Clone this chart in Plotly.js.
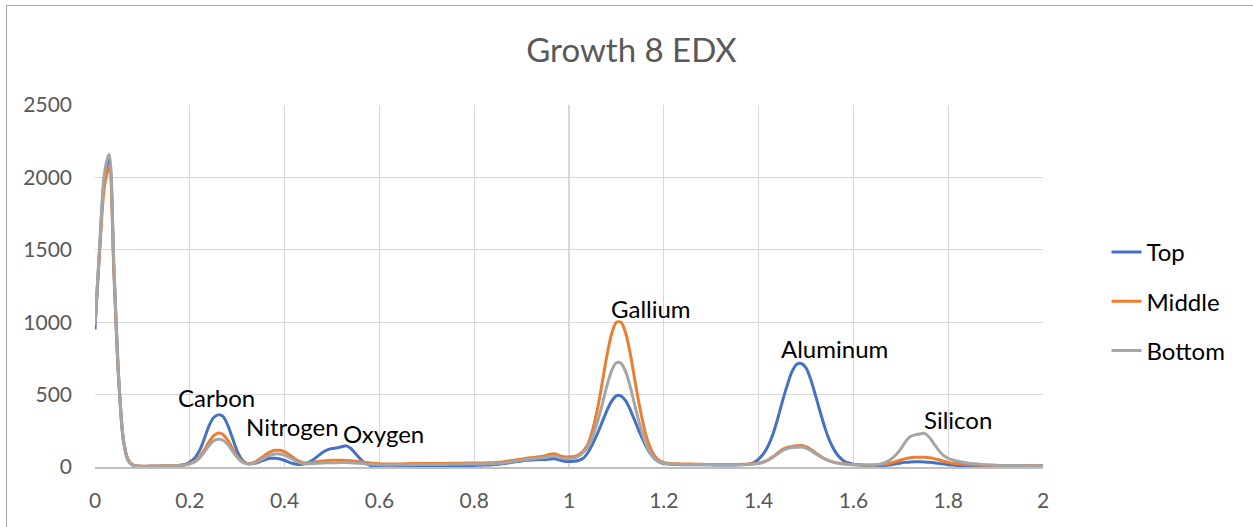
<!DOCTYPE html>
<html>
<head>
<meta charset="utf-8">
<script src="https://cdn.plot.ly/plotly-3.0.1.min.js"></script>
<style>
  html, body { margin: 0; padding: 0; background: #ffffff; }
  #wrap { position: relative; width: 1253px; height: 527px; overflow: hidden; }
  #chart { position: absolute; left: 0; top: 0; width: 1253px; height: 527px; }
  #frame { position: absolute; left: 6px; top: 5px; width: 1260px; height: 540px;
           border: 1px solid #a6a6a6; box-sizing: border-box; pointer-events: none; }
</style>
</head>
<body>
<div id="wrap">
  <div id="chart"></div>
  <div id="frame"></div>
</div>
<script>
// EDX spectrum channels: 0.00 to 2.00 keV in 0.01 keV steps
const channelStart = 0;
const channelStep = 0.01;
const channelCount = 201;
const energy = Array.from({length: channelCount}, (_, i) => +(channelStart + i * channelStep).toFixed(2));

// Counts per channel, one row per 0.1 keV
const topCounts = [
  950, 1520, 2000, 2125, 1350, 600, 180, 45, 12, 5,
  4, 4, 5, 5, 6, 6, 7, 9, 12, 18,
  35, 60, 110, 190, 280, 340, 360, 350, 290, 200,
  110, 50, 25, 22, 28, 40, 52, 60, 60, 55,
  45, 32, 22, 18, 20, 30, 50, 75, 100, 118,
  128, 132, 140, 146, 128, 92, 55, 28, 12, 4,
  0, -3, -4, -3, -2, 0, 2, 4, 5, 6,
  7, 8, 8, 8, 9, 9, 10, 10, 10, 11,
  11, 12, 13, 14, 16, 18, 22, 27, 32, 37,
  42, 46, 48, 50, 52, 50, 55, 57, 48, 40,
  38, 40, 45, 60, 100, 160, 230, 310, 390, 455,
  492, 490, 455, 390, 310, 230, 160, 100, 60, 35,
  24, 20, 18, 17, 16, 16, 15, 15, 15, 15,
  15, 14, 14, 14, 14, 14, 15, 16, 20, 30,
  55, 90, 145, 225, 330, 450, 560, 655, 708, 715,
  685, 605, 495, 380, 270, 180, 115, 70, 42, 28,
  20, 15, 12, 10, 10, 10, 11, 12, 16, 22,
  28, 32, 35, 36, 36, 35, 33, 30, 25, 20,
  16, 13, 11, 10, 9, 8, 8, 8, 7, 7,
  7, 7, 7, 6, 6, 6, 6, 6, 6, 6,
  6
];

const middleCounts = [
  1000, 1500, 1940, 2070, 1340, 610, 190, 50, 15, 7,
  6, 6, 7, 7, 8, 8, 9, 10, 12, 16,
  25, 40, 68, 115, 170, 215, 235, 225, 185, 130,
  75, 40, 25, 26, 40, 60, 85, 105, 115, 115,
  105, 85, 60, 40, 30, 28, 32, 38, 42, 45,
  46, 46, 46, 45, 43, 40, 36, 32, 28, 25,
  22, 20, 20, 20, 21, 22, 23, 24, 25, 25,
  25, 25, 25, 25, 25, 26, 26, 26, 27, 27,
  27, 28, 28, 29, 30, 32, 35, 40, 45, 50,
  55, 60, 64, 68, 72, 78, 88, 92, 78, 70,
  70, 72, 85, 110, 160, 260, 400, 580, 770, 920,
  1000, 1000, 920, 770, 580, 400, 250, 145, 80, 45,
  32, 26, 23, 22, 21, 20, 20, 19, 19, 18,
  18, 18, 18, 18, 17, 17, 18, 19, 20, 22,
  26, 35, 50, 70, 95, 120, 135, 142, 146, 148,
  140, 122, 98, 76, 56, 42, 32, 26, 22, 19,
  17, 15, 14, 14, 14, 15, 17, 21, 28, 38,
  48, 58, 64, 67, 68, 67, 64, 58, 50, 40,
  32, 26, 22, 19, 17, 15, 14, 13, 12, 12,
  11, 11, 11, 10, 10, 10, 10, 10, 10, 10,
  10
];

const bottomCounts = [
  980, 1540, 2030, 2160, 1380, 620, 185, 45, 12, 5,
  5, 5, 6, 6, 7, 7, 8, 9, 11, 14,
  22, 35, 60, 100, 145, 180, 192, 185, 155, 110,
  65, 35, 22, 22, 32, 50, 68, 82, 90, 90,
  82, 66, 48, 32, 24, 22, 24, 26, 28, 29,
  30, 30, 31, 31, 30, 28, 25, 22, 19, 17,
  15, 14, 14, 14, 15, 15, 16, 16, 17, 17,
  17, 18, 18, 18, 18, 19, 19, 19, 20, 20,
  20, 21, 21, 22, 23, 25, 28, 32, 37, 42,
  47, 52, 56, 59, 62, 66, 72, 76, 65, 58,
  58, 62, 75, 100, 140, 210, 310, 430, 560, 665,
  720, 715, 655, 545, 410, 285, 180, 105, 60, 35,
  26, 22, 20, 19, 18, 18, 17, 17, 17, 16,
  16, 16, 16, 16, 15, 15, 16, 17, 18, 20,
  24, 33, 47, 66, 90, 112, 128, 135, 136, 138,
  130, 114, 92, 72, 54, 40, 30, 24, 20, 17,
  15, 14, 13, 13, 14, 16, 22, 35, 55, 85,
  125, 175, 210, 222, 228, 232, 205, 160, 115, 80,
  60, 48, 40, 33, 28, 24, 20, 17, 15, 13,
  12, 11, 11, 10, 10, 10, 10, 9, 9, 9,
  9
];

const seriesNames = ['Top', 'Middle', 'Bottom'];
const seriesCounts = [topCounts, middleCounts, bottomCounts];
const seriesColors = ['#4472C4', '#ED7D31', '#A5A5A5'];

// Element labels placed beside their peaks (keV, counts)
const peakLabels = ['Carbon', 'Nitrogen', 'Oxygen', 'Gallium', 'Aluminum', 'Silicon'];
const peakLabelX = [0.257, 0.416, 0.608, 1.173, 1.561, 1.821];
const peakLabelY = [483, 283, 228, 1098, 815, 331];

const xTickVals = [0, 0.2, 0.4, 0.6, 0.8, 1, 1.2, 1.4, 1.6, 1.8, 2];
const xTickText = ['0', '0.2', '0.4', '0.6', '0.8', '1', '1.2', '1.4', '1.6', '1.8', '2'];
const yTickVals = [0, 500, 1000, 1500, 2000, 2500];

const FONT = 'Lato, "Open Sans", "Liberation Sans", sans-serif';

const traces = seriesNames.map((name, i) => ({
  type: 'scatter',
  mode: 'lines',
  name: name,
  x: energy,
  y: seriesCounts[i],
  legendgroup: name,
  line: {color: seriesColors[i], width: 3, shape: 'spline', smoothing: 0.8},
  hoverinfo: 'x+y+name'
}));

const annotations = peakLabels.map((t, i) => ({
  x: peakLabelX[i], y: peakLabelY[i], xref: 'x', yref: 'y',
  text: t, showarrow: false,
  font: {family: FONT, size: 24, color: '#000000'}
}));

const layout = {
  width: 1253,
  height: 527,
  margin: {l: 95, r: 210, t: 105, b: 60},
  paper_bgcolor: '#ffffff',
  plot_bgcolor: '#ffffff',
  font: {family: FONT, color: '#595959'},
  title: {
    text: 'Growth 8 EDX',
    font: {family: FONT, size: 33, color: '#595959'},
    x: 0.504, xref: 'container', xanchor: 'center',
    y: 1 - 50 / 527, yref: 'container', yanchor: 'middle'
  },
  xaxis: {
    range: [0, 2],
    tickvals: xTickVals,
    ticktext: xTickText,
    showgrid: true,
    gridcolor: '#d9d9d9',
    gridwidth: 1.3,
    zeroline: false,
    showline: true,
    linecolor: '#bfbfbf',
    linewidth: 1.5,
    ticks: '',
    ticklen: 0,
    ticklabelstandoff: 14,
    tickfont: {family: FONT, size: 21, color: '#595959'},
    fixedrange: true
  },
  yaxis: {
    range: [0, 2500],
    tickvals: yTickVals,
    showgrid: true,
    gridcolor: '#d9d9d9',
    gridwidth: 1.3,
    zeroline: false,
    showline: false,
    ticks: '',
    ticklen: 0,
    ticklabelstandoff: 22,
    tickfont: {family: FONT, size: 21, color: '#595959'},
    fixedrange: true
  },
  showlegend: true,
  legend: {
    x: 1.067, xanchor: 'left',
    y: 0.655, yanchor: 'top',
    font: {family: FONT, size: 24, color: '#000000'},
    tracegroupgap: 15,
    bgcolor: 'rgba(0,0,0,0)'
  },
  annotations: annotations
};

Plotly.newPlot('chart', traces, layout, {displayModeBar: false, staticPlot: true});
</script>
</body>
</html>
